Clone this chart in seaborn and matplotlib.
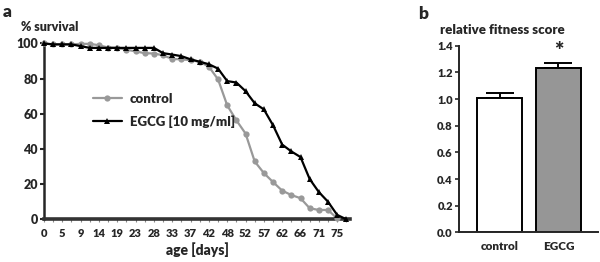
import numpy as np
import pandas as pd
import seaborn as sns
import matplotlib
matplotlib.use("Agg")
import matplotlib.pyplot as plt
from matplotlib.ticker import FixedLocator

# survival data (% alive), sampled every ~2.3 days
days = [0, 2, 5, 7, 9, 12, 14, 16, 19, 21, 23, 26, 28, 30, 33, 35, 37,
        40, 42, 45, 48, 50, 52, 55, 57, 59, 62, 64, 66, 69, 71, 73, 75, 77]
control_surv = [100, 99.5, 99.5, 99.5, 99.8, 99.8, 99, 97.7, 97.5, 96.5, 95.5,
                94.5, 94.3, 93.3, 91.2, 91, 90.5, 89.6, 86.8, 79.6, 64.8, 56.3,
                48.8, 32.9, 26.3, 21.2, 16.3, 13.8, 12, 6.3, 5.3, 5.3, 0.5]
egcg_surv = [100, 99.5, 99.5, 99.5, 98.5, 97.5, 97.5, 97.5, 97.5, 97.5, 97.5,
             97.5, 97.5, 94.5, 93.7, 92.8, 91, 89.6, 88.2, 85.7, 78.6, 77.8,
             72.9, 66, 62.5, 53.5, 42.5, 38.6, 35.4, 22.9, 15.5, 10, 2.5, 0]

# fitness score
groups = ["control", "EGCG"]
fitness = [1.01, 1.235]
fitness_err = [0.037, 0.037]

sns.set_style("ticks")
plt.rcParams["font.family"] = ["Lato", "DejaVu Sans"]

fig = plt.figure(figsize=(6, 2.62), dpi=100)
ax1 = fig.add_axes([0.0733, 0.163, 0.51, 0.671])
ax2 = fig.add_axes([0.765, 0.113, 0.232, 0.712])

# ---- panel a: survival curves ----
pos_c = np.arange(len(control_surv))
pos_e = np.arange(len(egcg_surv))
sns.lineplot(x=pos_c, y=control_surv, ax=ax1, color="#999999", marker="o",
             markersize=4.5, markeredgewidth=0, linewidth=1.6, label="control",
             clip_on=False, zorder=3)
sns.lineplot(x=pos_e, y=egcg_surv, ax=ax1, color="black", marker="^",
             markersize=5, markeredgewidth=0, linewidth=1.6,
             label="EGCG [10 mg/ml]", clip_on=False, zorder=4)

ax1.set_xlim(0, 33.4)
ax1.set_ylim(0, 100)
ax1.set_yticks([0, 20, 40, 60, 80, 100])
ax1.xaxis.set_major_locator(FixedLocator(list(range(0, len(days), 2))))
ax1.set_xticklabels([str(d) for d in days[::2]])
ax1.xaxis.set_minor_locator(FixedLocator(list(range(1, len(days), 2))))
ax1.tick_params(axis="x", which="both", length=2.5, width=0.8, color="#888888",
                labelsize=8, pad=4)
ax1.tick_params(axis="y", length=3, width=1.5, labelsize=9, pad=1.5)
for lab in ax1.get_xticklabels() + ax1.get_yticklabels():
    lab.set_fontweight("heavy")
sns.despine(ax=ax1)
ax1.spines["left"].set_linewidth(1.8)
ax1.spines["bottom"].set_linewidth(2.6)
ax1.spines["bottom"].set_color("#333333")
ax1.set_xlabel("age [days]", fontsize=10, fontweight="heavy", labelpad=2)
ax1.set_ylabel("")
ax1.text(-0.075, 1.094, "% survival", transform=ax1.transAxes, fontsize=9,
         fontweight="heavy", va="center", ha="left")
ax1.legend(loc="center left", bbox_to_anchor=(0.12, 0.62), frameon=False,
           handlelength=2.2, handletextpad=0.6, labelspacing=0.8,
           prop={"weight": "heavy", "size": 9.5})
fig.text(0.005, 0.955, "a", fontsize=12.5, fontweight="heavy", va="center")

# ---- panel b: fitness bars ----
sns.barplot(x=groups, y=fitness, hue=groups, palette=["white", "#969696"],
            legend=False, edgecolor="black", linewidth=1.4, width=0.77,
            ax=ax2, zorder=2)
ax2.errorbar([0, 1], fitness, yerr=[[0, 0], fitness_err], fmt="none",
             ecolor="black", elinewidth=1.4, capsize=10, capthick=1.4, zorder=1)
ax2.text(1, 1.355, "*", ha="center", va="center", fontsize=16, fontweight="heavy")
ax2.set_xlim(-0.70, 1.68)
ax2.set_ylim(0, 1.4)
ax2.set_yticks(np.arange(0, 1.41, 0.2))
ax2.set_yticklabels([f"{v:.1f}" for v in np.arange(0, 1.41, 0.2)])
ax2.tick_params(axis="y", length=3, width=1.2, labelsize=8, pad=1.5)
ax2.tick_params(axis="x", length=0, labelsize=8.5, pad=6)
for lab in ax2.get_xticklabels() + ax2.get_yticklabels():
    lab.set_fontweight("heavy")
sns.despine(ax=ax2)
ax2.spines["left"].set_linewidth(1.4)
ax2.spines["bottom"].set_linewidth(1.4)
ax2.text(-0.137, 1.084, "relative fitness score", transform=ax2.transAxes,
         fontsize=9.5, fontweight="heavy", va="center", ha="left")
fig.text(0.697, 0.945, "b", fontsize=12.5, fontweight="heavy", va="center")

fig.savefig("out.png", dpi=100)
